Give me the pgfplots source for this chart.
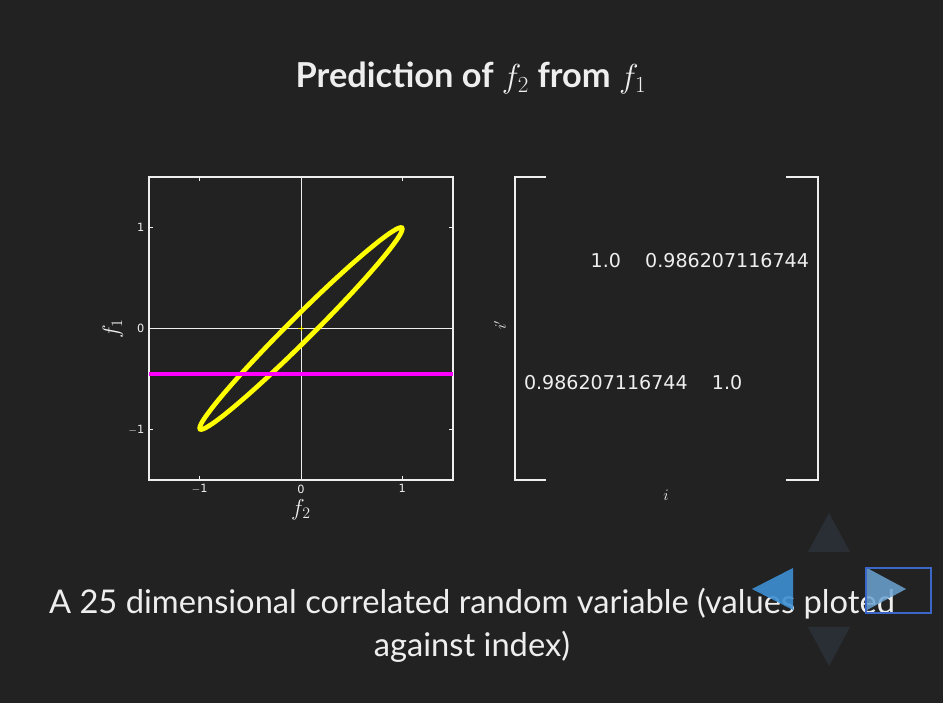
\documentclass[border=0pt]{standalone}
\usepackage{pgfplots}
\pgfplotsset{compat=1.18}
\usepackage{fontspec}
\setmainfont{DejaVu Sans}
\newfontfamily\slidefont{Lato}
\definecolor{bg}{HTML}{222222}
\definecolor{fg}{HTML}{EEEEEE}
\definecolor{ylw}{HTML}{FFFF00}
\definecolor{mag}{HTML}{FF00FF}
\definecolor{navblue}{HTML}{3D8FD3}
\definecolor{navlight}{HTML}{6BA3D3}
\definecolor{navframe}{HTML}{3B68C8}
\definecolor{navdim}{HTML}{2A2F36}

% ellipse of the 2x2 covariance, rho = 0.9862
\pgfplotstableread{
x y
0.0000 0.1655
-0.1737 -0.0082
-0.3420 -0.1818
-0.5000 -0.3498
-0.6428 -0.5071
-0.7660 -0.6491
-0.8660 -0.7713
-0.9397 -0.8701
-0.9659 -0.9098
-0.9848 -0.9425
-0.9962 -0.9680
-1.0000 -0.9862
-0.9962 -0.9969
-0.9848 -1.0000
-0.9659 -0.9955
-0.9397 -0.9833
-0.8660 -0.9368
-0.7660 -0.8619
-0.6428 -0.7607
-0.5000 -0.6364
-0.3420 -0.4928
-0.1737 -0.3343
0.0000 -0.1655
0.1737 0.0082
0.3420 0.1818
0.5000 0.3498
0.6428 0.5071
0.7660 0.6491
0.8660 0.7713
0.9397 0.8701
0.9659 0.9098
0.9848 0.9425
0.9962 0.9680
1.0000 0.9862
0.9962 0.9969
0.9848 1.0000
0.9659 0.9955
0.9397 0.9833
0.8660 0.9368
0.7660 0.8619
0.6428 0.7607
0.5000 0.6364
0.3420 0.4928
0.1737 0.3343
0.0000 0.1655
}\ellipsetab

\pgfplotstableread{
x y txt
0.30 0.723 1.0
0.70 0.723 0.986207116744
0.30 0.323 0.986207116744
0.70 0.323 1.0
}\matrixtab

\begin{document}
\begin{tikzpicture}
\begin{scope}[x=0.75pt,y=0.75pt]
\fill[bg] (0,0) rectangle (943,703);
\path[use as bounding box] (0,0) rectangle (943,703);
\node[text=fg,font=\slidefont\bfseries\fontsize{25.8}{30}\selectfont] at (471,625)
  {Prediction of $f_2$ from $f_1$};
\node[text=fg,font=\fontsize{12}{14}\selectfont] at (666,208) {$i$};
\node[text=fg,font=\fontsize{12}{14}\selectfont,rotate=90] at (500,378) {$i'$};
\node[text=fg,font=\slidefont\fontsize{24.5}{32}\selectfont,align=center] at (472,78)
  {A 25 dimensional correlated random variable (values ploted\\ against index)};
\end{scope}

\begin{axis}[at={(111.75pt,394.5pt)},anchor=north west,scale only axis,
  width=228pt,height=227.25pt,
  xmin=-1.5,xmax=1.5,ymin=-1.5,ymax=1.5,
  axis background/.style={fill=bg},
  axis line style={fg,line width=1.1pt},
  tick style={fg,line width=0.6pt},tick align=inside,major tick length=3pt,
  xtick={-1,0,1},ytick={-1,0,1},
  xticklabels={$-$1,0,1},yticklabels={$-$1,0,1},
  ticklabel style={text=fg,font=\fontsize{8.5}{10}\selectfont},
  xlabel={$f_2$},ylabel={$f_1$},
  label style={text=fg,font=\fontsize{18}{21}\selectfont},
  xlabel style={yshift=3pt},ylabel style={yshift=-3pt},
  clip=true]
\addplot[fg,line width=0.7pt] coordinates {(-1.5,0)(1.5,0)};
\addplot[fg,line width=0.7pt] coordinates {(0,-1.5)(0,1.5)};
\addplot[ylw,line width=3.5pt,smooth,tension=0.4] table {\ellipsetab};
\addplot[ylw,only marks,mark=+,mark size=2pt,line width=0.4pt] coordinates {(0,0)};
\addplot[mag,line width=3.6pt] coordinates {(-1.5,-0.45)(1.5,-0.45)};
\end{axis}

\begin{axis}[at={(386.25pt,394.5pt)},anchor=north west,scale only axis,
  width=227.25pt,height=227.25pt,
  xmin=0,xmax=1,ymin=0,ymax=1,
  axis line style={draw=none},ticks=none,clip=false]
\addplot[fg,line width=1.5pt] coordinates {(0.102,0)(0,0)(0,1)(0.102,1)};
\addplot[fg,line width=1.5pt] coordinates {(0.894,0)(1,0)(1,1)(0.894,1)};
\addplot[draw=none,mark=none,point meta=explicit symbolic,
  nodes near coords,nodes near coords align=center,
  every node near coord/.append style={text=fg,font=\fontsize{14.3}{17}\selectfont}]
  table[meta=txt] {\matrixtab};
\end{axis}

\begin{scope}[x=0.75pt,y=0.75pt]
% slide navigation controls
\fill[navdim] (829,190) -- (850,151) -- (808,151) -- cycle;
\fill[navdim] (808,76) -- (850,76) -- (829,37) -- cycle;
\fill[navblue,opacity=0.9] (752,114) -- (793,135) -- (793,93) -- cycle;
\fill[navlight,opacity=0.85] (867,135) -- (906,114) -- (867,93) -- cycle;
\draw[navframe,line width=1.2pt] (866,135) rectangle (931,90);
\end{scope}
\end{tikzpicture}
\end{document}
